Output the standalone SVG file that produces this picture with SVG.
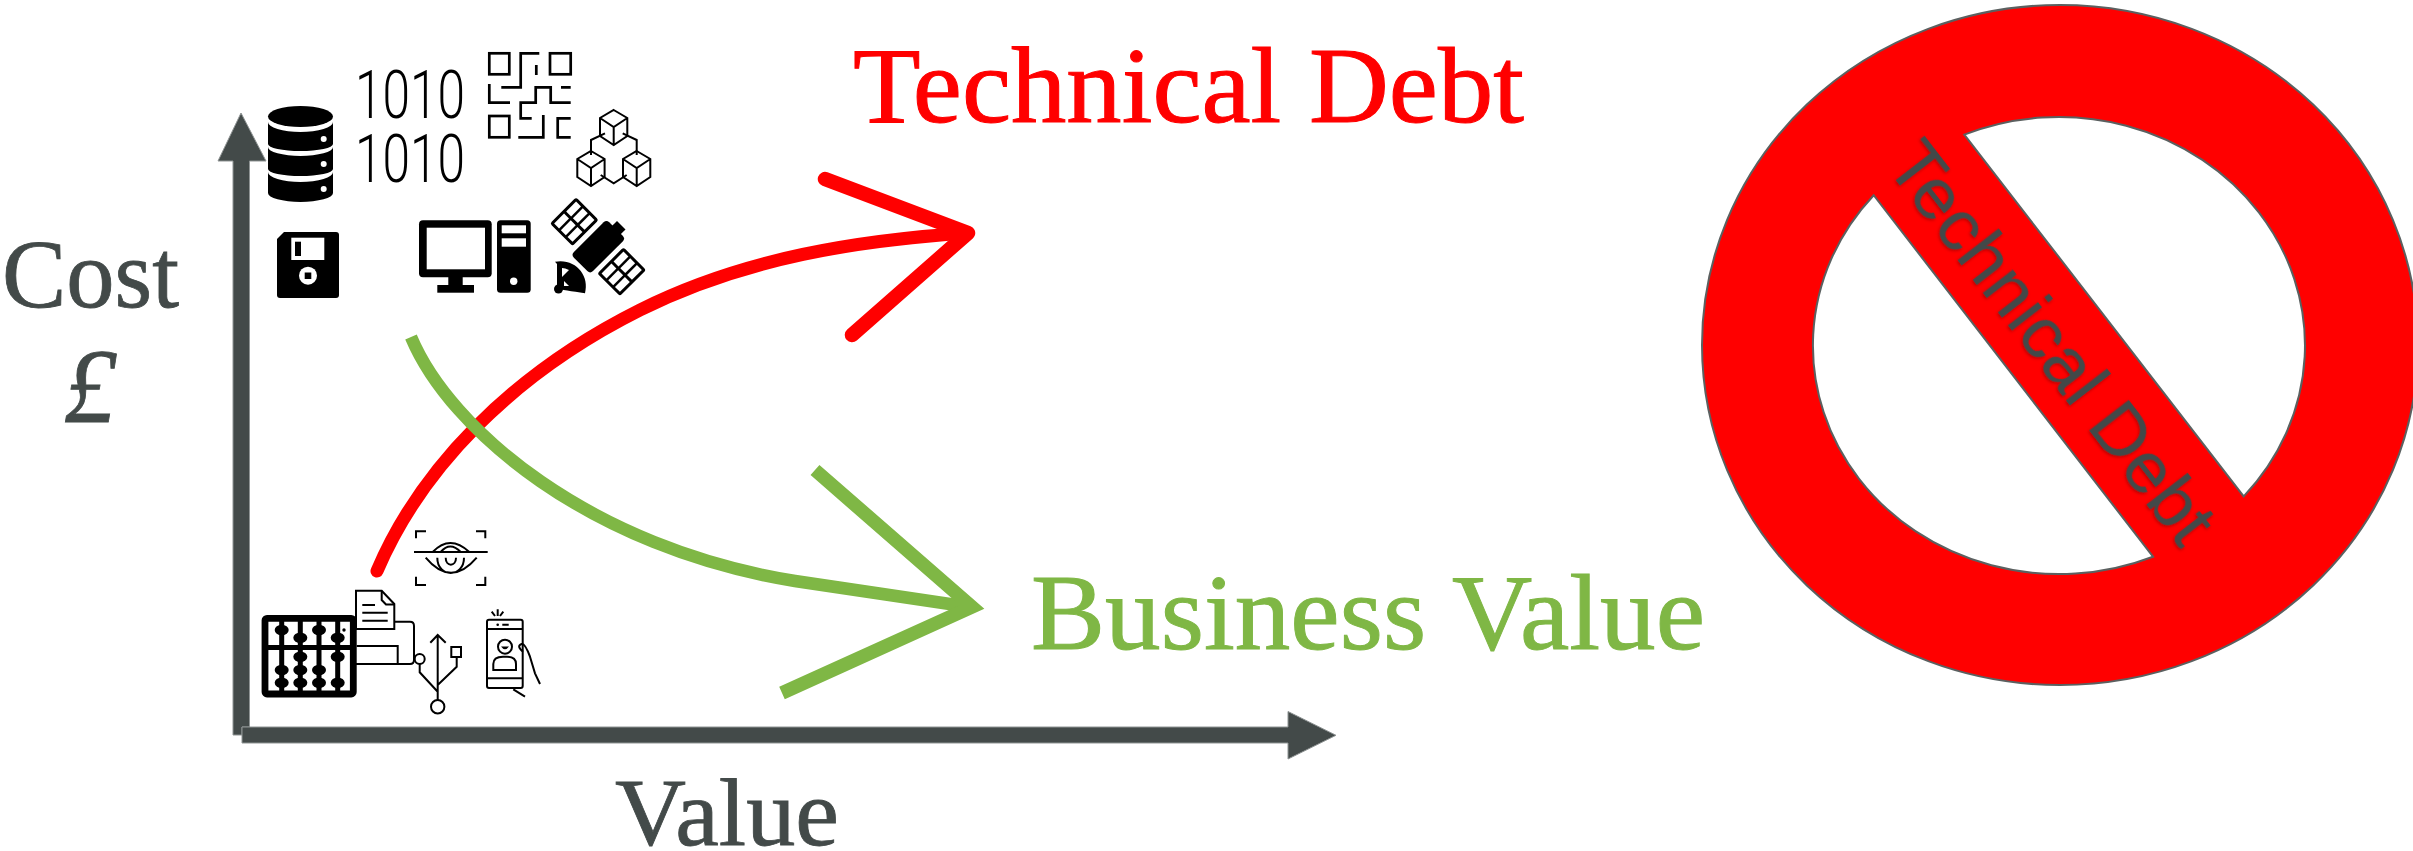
<svg xmlns="http://www.w3.org/2000/svg" width="2413" height="851" viewBox="0 0 2413 851">
<style>
.serif{font-family:"Liberation Serif",serif}
.dark{fill:#434a49;stroke:#434a49;stroke-width:.8}
.axis{fill:#434a49;stroke:#8f9494;stroke-width:1}
.icon{fill:none;stroke:#000;stroke-width:2.7}
.thin{fill:none;stroke:#000;stroke-width:2}
.k{fill:#000}
.w{fill:#fff}
.red{fill:none;stroke:#f00;stroke-width:13;stroke-linecap:round;stroke-linejoin:round}
.redh{stroke-width:14.500}
.green{fill:none;stroke:#7fb745;stroke-width:12.500;stroke-linejoin:miter;stroke-miterlimit:10}
.greenh{stroke-width:13.500}
.bits{font-family:"Roboto",sans-serif;font-weight:300;font-size:66px}
</style>
<defs>
<filter id="sh" x="-10%" y="-10%" width="120%" height="120%"><feDropShadow dx="0.5" dy="1.5" stdDeviation="1.5" flood-color="#000" flood-opacity="0.3"/></filter>
<g id="cube"><path class="thin" d="M0,-17.5L13.6,-9.5V8.5L0,17.5L-13.7,8.5V-9.5ZM-13.7,-9.5L0,-0.5L13.6,-9.5M0,-0.5V17.5"/></g>
<g id="panel"><rect x="-18.500" y="-16" width="37" height="32" rx="2.500" class="k"/><g class="w"><rect x="-15.500" y="-13" width="14" height="7"/><rect x="1.500" y="-13" width="14" height="7"/><rect x="-15.500" y="-3.500" width="14" height="7"/><rect x="1.500" y="-3.500" width="14" height="7"/><rect x="-15.500" y="6" width="14" height="7"/><rect x="1.500" y="6" width="14" height="7"/></g></g>
</defs>

<g id="connectors">
<path class="red" d="M377,571C420,470 510,375 640,310C745,257.500 860,240 968,233"/>
<path class="red redh" d="M825,179L968,233L852,335"/>
<path class="green" d="M411,337C450,430 590,548 795,581L970,607"/>
<path class="green greenh" d="M815,470L972,607L782,693"/>
</g>

<g id="axis-y"><path class="axis" d="M233,735V161H218L241,113L266,161H249.500V727H242V735Z"/></g>
<g id="axis-x"><path class="axis" d="M242,743V727H1288V711.500L1336,735.300L1288,759V743Z"/></g>

<g id="label-cost"><text class="serif dark" x="2" y="307" font-size="97" textLength="177" lengthAdjust="spacingAndGlyphs">Cost</text></g>
<g id="label-pound"><text class="serif dark" x="64" y="422" font-size="105" font-style="italic">£</text></g>
<g id="label-value"><text class="serif dark" x="615" y="845" font-size="95" textLength="224" lengthAdjust="spacingAndGlyphs">Value</text></g>
<g id="label-technical-debt"><text class="serif" fill="#f00" stroke="#f00" stroke-width="1" x="853" y="122" font-size="109" textLength="671" lengthAdjust="spacingAndGlyphs">Technical Debt</text></g>
<g id="label-business-value"><text class="serif" fill="#7fb745" stroke="#7fb745" stroke-width="1" x="1031" y="649" font-size="109" textLength="674" lengthAdjust="spacingAndGlyphs">Business Value</text></g>

<g id="no-sign">
<path fill="#f00" stroke="#5b6060" stroke-width="2" fill-rule="evenodd" d="M1702,345A358,340 0 1 1 2418,345A358,340 0 1 1 1702,345ZM1964.300,134.600L2243.700,496.400A246,228.500 0 0 0 1964.300,134.600ZM2153,556.700L1873.700,195.200A246,228.500 0 0 0 2153,556.700Z"/>
<text transform="translate(1884,165) rotate(52.300)" font-family="'Liberation Sans',sans-serif" font-size="72" fill="#434a49" filter="url(#sh)" textLength="486" lengthAdjust="spacingAndGlyphs">Technical Debt</text>
</g>

<g id="icon-database">
<ellipse class="k" cx="300.500" cy="116.500" rx="32.500" ry="10.500"/>
<path class="k" d="M268,122A32.500,10 0 0 0 333,122V144A32.500,7 0 0 1 268,144Z"/>
<path class="k" d="M268,147A32.500,9 0 0 0 333,147V169A32.500,7 0 0 1 268,169Z"/>
<path class="k" d="M268,172A32.500,10 0 0 0 333,172V193A32.500,9 0 0 1 268,193Z"/>
<circle class="w" cx="323.700" cy="139" r="3"/><circle class="w" cx="323.700" cy="164" r="3"/><circle class="w" cx="323.700" cy="189" r="3"/>
</g>

<g id="icon-binary">
<text class="bits" x="355" y="118" textLength="110" lengthAdjust="spacingAndGlyphs">1010</text>
<text class="bits" x="355" y="182" textLength="110" lengthAdjust="spacingAndGlyphs">1010</text>
</g>

<g id="icon-qr">
<rect class="icon" x="489.300" y="53.300" width="20" height="21"/>
<rect class="icon" x="550" y="53.300" width="20.700" height="21"/>
<rect class="icon" x="489.300" y="116" width="20" height="21.300"/>
<path class="icon" d="M539.300,53.300H520.700V87.300H501.300M536.300,65V75M561,87.300H570.700M489.300,84V102.700H510M531.700,118.300H520.700V102.700H535.700V87.300H550.700V102.700H570.700M518.300,137.300H543.300V115M570.700,118.300H557.700V137.300H570.700"/>
</g>

<g id="icon-cubes">
<use href="#cube" x="613.700" y="127.500"/><use href="#cube" x="591" y="168.500"/><use href="#cube" x="636.700" y="168.500"/>
<path class="thin" d="M605,133.300L591,140V155M622.700,133.300L636.700,140V155M600.700,175L613.700,183.300L626.700,175"/>
</g>

<g id="icon-floppy">
<path class="k" d="M284,232H336A3,3 0 0 1 339,235V295A3,3 0 0 1 336,298H280A3,3 0 0 1 277,295V239Z"/>
<rect class="w" x="291.300" y="237.700" width="33" height="22.300"/>
<rect class="k" x="295" y="241.700" width="6" height="14.300"/>
<circle class="w" cx="308" cy="275.700" r="9"/>
<rect class="k" x="304.700" y="272.500" width="6.600" height="6.500"/>
</g>

<g id="icon-computer">
<rect class="k" x="419" y="220.300" width="72.700" height="57" rx="4"/>
<rect class="w" x="426.700" y="227.700" width="58.300" height="41.600"/>
<rect class="k" x="448.300" y="277" width="14.400" height="8"/>
<rect class="k" x="437.300" y="285" width="36.700" height="7.700"/>
<rect class="k" x="497" y="220.300" width="33.700" height="72.400" rx="3.500"/>
<rect class="w" x="501.700" y="225.300" width="24.300" height="8"/>
<rect class="w" x="501.700" y="238.300" width="24.300" height="8.400"/>
<circle class="w" cx="513.700" cy="281.300" r="3.700"/>
</g>

<g id="icon-satellite">
<use href="#panel" transform="translate(574.300,221.700) rotate(-45)"/>
<use href="#panel" transform="translate(621.700,271.700) rotate(-45)"/>
<rect class="k" x="-13.500" y="-25" width="27" height="50" rx="4" transform="translate(598.300,246.700) rotate(45)"/>
<rect class="k" x="-5" y="-5" width="12" height="10" transform="translate(617,228) rotate(45)"/>
<path class="k" d="M555,261.700C575,258 590,275 585,293.300C572,291 560,290 557,288V264Z"/>
<path class="w" d="M562,268V277L569,270Q565,268 562,268Z"/>
<path class="w" d="M564,286V281L569,286Z"/>
<circle class="k" cx="558.500" cy="289" r="4.500"/>
</g>

<g id="icon-eye">
<path class="thin" d="M416,538.300V531.300H426M476,531.300H485.300V538.300M416,576.700V585H426M476,585H485.300V576.700"/>
<path class="thin" d="M414,552H487.700M432.700,552Q450,534 469.300,552M440.700,552Q450,541 460.700,552M425.700,557.700Q451,588 476.700,557.700M437.300,557.700C437.300,578 464,578 464,557.700M445.700,557.700C445.700,567 456,567 456,557.700"/>
</g>

<g id="icon-document">
<path class="thin" d="M394.300,621.700H410Q414,621.700 414,626V660Q414,664 410,664H340M356.700,646H397.700V664"/>
<path fill="#fff" stroke="#000" stroke-width="2" d="M356,590.700H381.700L394.300,604V629H356Z"/>
<path class="thin" d="M381.700,590.700V600L386,604.500H394.300M362.300,605H375M362.300,612.700H387.700M362.300,620.700H387.700"/>
</g>

<g id="icon-abacus">
<rect x="265" y="618.300" width="88.300" height="75.700" rx="2" fill="#fff" stroke="#000" stroke-width="6.800"/>
<path fill="none" stroke="#000" stroke-width="5" d="M265,647.500H353.300M281.700,618V694M300.300,618V694M319,618V694M337.700,618V694"/>
<g class="k">
<ellipse cx="281.700" cy="630" rx="7" ry="5.300"/><ellipse cx="281.700" cy="670" rx="7" ry="5.300"/><ellipse cx="281.700" cy="682.700" rx="7" ry="5.300"/>
<ellipse cx="300.300" cy="637.700" rx="7" ry="5.300"/><ellipse cx="300.300" cy="656.700" rx="7" ry="5.300"/><ellipse cx="300.300" cy="670" rx="7" ry="5.300"/><ellipse cx="300.300" cy="682.700" rx="7" ry="5.300"/>
<ellipse cx="319" cy="630" rx="7" ry="5.300"/><ellipse cx="319" cy="670" rx="7" ry="5.300"/><ellipse cx="319" cy="682.700" rx="7" ry="5.300"/>
<ellipse cx="337.700" cy="637.700" rx="7" ry="5.300"/><ellipse cx="337.700" cy="656.700" rx="7" ry="5.300"/><ellipse cx="337.700" cy="682.700" rx="7" ry="5.300"/>
</g>
<circle class="k" cx="344" cy="630" r="1.700"/>
</g>

<g id="icon-usb">
<circle cx="419.700" cy="659" r="5" fill="#fff" stroke="#000" stroke-width="2"/>
<circle cx="437.700" cy="706.700" r="6.700" fill="#fff" stroke="#000" stroke-width="2"/>
<rect x="451.300" y="647" width="9.700" height="10" fill="#fff" stroke="#000" stroke-width="2"/>
<path class="thin" d="M419.700,664V672.300L437.700,691.700M437.700,635V700M430.300,642.700L437.700,635L445.700,642.700M437.700,685L456.700,666.700V657"/>
</g>

<g id="icon-phone">
<rect class="thin" x="487" y="619.700" width="35.700" height="68.300" rx="2"/>
<path class="thin" d="M487,629H522.700M487,678.300H522.700M502.300,624.700H508.700M497.700,609.300V616M491.700,611.700L495,616M503.300,611.700L500,616"/>
<circle class="k" cx="497.700" cy="624.700" r="1.300"/>
<circle class="thin" cx="505" cy="646.700" r="7"/>
<path class="k" d="M501,646.500H509Q505,652 501,646.500Z"/>
<path class="thin" d="M493.300,670V664Q493.300,656.700 503,656.700H507Q516,656.700 516,664V670Z"/>
<path class="thin" d="M523,651.700Q516,646 521.700,644Q525,643 530,656.700L535,673.300L540,684M513.300,689.300L525,696.700"/>
</g>
</svg>
